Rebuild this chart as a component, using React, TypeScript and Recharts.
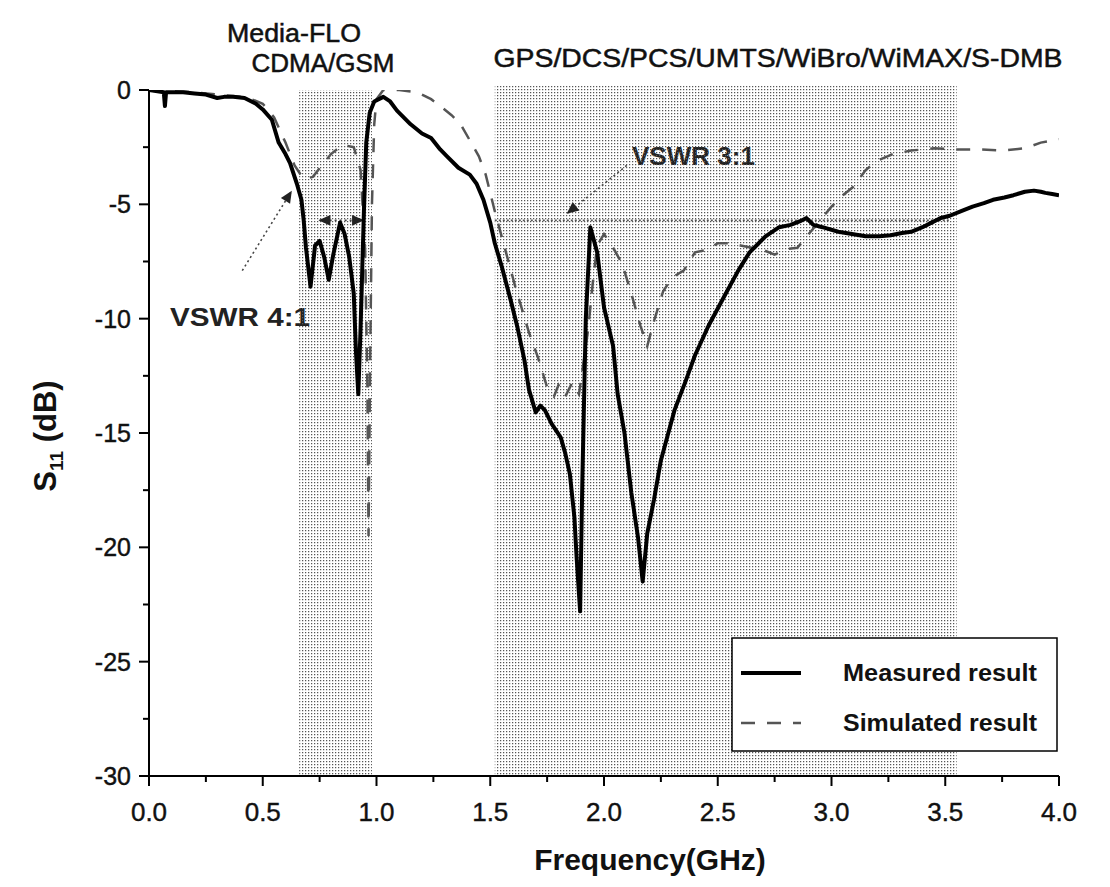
import React from 'react';
import {
  ComposedChart,
  Line,
  XAxis,
  YAxis,
  ReferenceArea,
  ReferenceLine,
  Legend,
} from 'recharts';

// Measured return loss (GHz, dB)
const measuredFreq = [
  0.0, 0.03, 0.065, 0.07, 0.075, 0.15, 0.2, 0.25, 0.3, 0.33, 0.37, 0.42, 0.47, 0.5,
  0.54, 0.57, 0.6, 0.62, 0.65, 0.67, 0.68, 0.69, 0.71, 0.73, 0.75, 0.77, 0.79, 0.81,
  0.84, 0.86, 0.88, 0.9, 0.91, 0.92, 0.93, 0.945, 0.955, 0.97, 0.99, 1.03, 1.06, 1.09,
  1.15, 1.2, 1.24, 1.28, 1.31, 1.36, 1.41, 1.44, 1.47, 1.5, 1.52, 1.55, 1.59, 1.62,
  1.65, 1.67, 1.7, 1.72, 1.74, 1.77, 1.79, 1.81, 1.83, 1.85, 1.87, 1.88, 1.895, 1.905,
  1.92, 1.94, 1.97, 2.0, 2.04, 2.06, 2.09, 2.12, 2.15, 2.17, 2.19, 2.22, 2.25, 2.28,
  2.31, 2.36, 2.4, 2.46, 2.53, 2.59, 2.64, 2.71, 2.77, 2.82, 2.86, 2.89, 2.92, 2.96,
  3.03, 3.09, 3.15, 3.21, 3.26, 3.31, 3.35, 3.4, 3.44, 3.48, 3.52, 3.57, 3.62, 3.67,
  3.71, 3.76, 3.8, 3.85, 3.89, 3.92, 3.94, 3.97, 4.0,
];
const measuredS11 = [
  0.0, -0.05, -0.1, -0.7, -0.1, -0.1, -0.15, -0.2, -0.35, -0.3, -0.3, -0.35, -0.6, -0.85,
  -1.3, -2.3, -2.8, -3.2, -4.1, -4.8, -5.7, -6.9, -8.6, -6.8, -6.6, -7.3, -8.3, -7.2,
  -5.8, -6.3, -7.3, -8.9, -11.5, -13.3, -10.4, -5.2, -2.3, -1.0, -0.5, -0.3, -0.5, -0.9,
  -1.5, -1.9, -2.1, -2.6, -2.9, -3.4, -3.7, -4.1, -4.8, -5.8, -6.7, -7.7, -9.2, -10.4,
  -11.8, -13.1, -14.1, -13.8, -14.0, -14.6, -14.9, -15.2, -15.9, -16.8, -18.7, -20.5, -22.8, -17.0,
  -10.0, -6.0, -7.1, -9.5, -11.2, -13.3, -15.0, -17.6, -19.6, -21.5, -19.4, -17.9, -16.2, -15.1,
  -14.0, -12.7, -11.6, -10.3, -9.0, -7.9, -7.1, -6.4, -6.0, -5.9, -5.75, -5.6, -5.9, -6.0,
  -6.2, -6.3, -6.4, -6.4, -6.35, -6.25, -6.2, -6.0, -5.8, -5.6, -5.5, -5.3, -5.1, -4.95,
  -4.8, -4.7, -4.6, -4.45, -4.4, -4.45, -4.5, -4.55, -4.6,
];

// Simulated return loss (GHz, dB)
const simulatedFreq = [
  0.0, 0.1, 0.2, 0.3, 0.4, 0.45, 0.5, 0.55, 0.6, 0.64, 0.68, 0.72, 0.76, 0.8,
  0.85, 0.9, 0.93, 0.95, 0.96, 0.965, 0.972, 0.98, 0.99, 1.0, 1.03, 1.1, 1.18, 1.24,
  1.28, 1.33, 1.37, 1.41, 1.45, 1.48, 1.5, 1.52, 1.55, 1.58, 1.61, 1.64, 1.67, 1.71,
  1.75, 1.78, 1.8, 1.83, 1.86, 1.89, 1.93, 1.95, 1.97, 2.0, 2.04, 2.08, 2.12, 2.16,
  2.19, 2.22, 2.26, 2.3, 2.35, 2.4, 2.45, 2.5, 2.55, 2.6, 2.65, 2.7, 2.75, 2.8,
  2.85, 2.9, 2.95, 3.0, 3.05, 3.1, 3.15, 3.2, 3.27, 3.35, 3.45, 3.55, 3.65, 3.75,
  3.85, 3.92, 4.0,
];
const simulatedS11 = [
  0.0, -0.05, -0.1, -0.2, -0.3, -0.4, -0.6, -1.2, -2.3, -3.3, -3.9, -3.8, -3.3, -2.8,
  -2.4, -2.5, -3.5, -7.0, -13.0, -19.5, -12.0, -5.0, -1.5, -0.4, 0.0, 0.0, -0.1, -0.4,
  -0.7, -1.1, -1.5, -2.2, -2.9, -3.7, -4.5, -5.3, -6.4, -7.5, -8.6, -9.6, -10.6, -11.7,
  -13.0, -13.4, -12.9, -13.4, -12.8, -13.3, -10.5, -8.5, -6.8, -6.3, -6.9, -7.6, -8.9, -10.3,
  -11.2, -10.1, -8.8, -8.2, -7.9, -7.1, -7.0, -6.7, -6.7, -6.8, -6.9, -7.0, -7.2, -6.95,
  -6.9, -6.3, -5.7, -5.1, -4.6, -4.2, -3.5, -3.1, -2.8, -2.65, -2.55, -2.6, -2.6, -2.65,
  -2.55, -2.3, -2.15,
];

// Axis ticks (major every 0.5 GHz / 5 dB, minor in between)
const xTicks = [0, 0.25, 0.5, 0.75, 1, 1.25, 1.5, 1.75, 2, 2.25, 2.5, 2.75, 3, 3.25, 3.5, 3.75, 4];
const yTicks = [0, -2.5, -5, -7.5, -10, -12.5, -15, -17.5, -20, -22.5, -25, -27.5, -30];

// Service bands and their captions
const lowBand = [0.66, 0.98];
const highBand = [1.52, 3.55];
const bandLabels = ['Media-FLO', 'CDMA/GSM', 'GPS/DCS/PCS/UMTS/WiBro/WiMAX/S-DMB'];

// VSWR reference levels (dB)
const vswr3Level = -5.7;
const vswr4Level = -4.45;

const measured = measuredFreq.map((f, i) => ({ f, s11: measuredS11[i] }));
const simulated = simulatedFreq.map((f, i) => ({ f, s11: simulatedS11[i] }));

const FONT = '"Liberation Sans", Arial, Helvetica, sans-serif';

const isMajorX = (v: number) => Math.abs(v * 2 - Math.round(v * 2)) < 1e-6;
const isMajorY = (v: number) => Math.abs(v / 5 - Math.round(v / 5)) < 1e-6;

const XTick = (props: any) => {
  const { x, y, payload } = props;
  const major = isMajorX(payload.value);
  return (
    <g>
      <line x1={x} x2={x} y1={y} y2={y + (major ? 10 : 6)} stroke="#000" strokeWidth={2} />
      {major && (
        <text
          x={x}
          y={y + 45}
          textAnchor="middle"
          fontSize={26}
          fill="#111"
          stroke="#111"
          strokeWidth={0.4}
          fontFamily={FONT}
        >
          {payload.value.toFixed(1)}
        </text>
      )}
    </g>
  );
};

const YTick = (props: any) => {
  const { x, y, payload } = props;
  const major = isMajorY(payload.value);
  return (
    <g>
      <line x1={x - (major ? 10 : 6)} x2={x} y1={y} y2={y} stroke="#000" strokeWidth={2} />
      {major && (
        <text
          x={x - 18}
          y={y + 9}
          textAnchor="end"
          fontSize={25}
          fill="#111"
          stroke="#111"
          strokeWidth={0.4}
          fontFamily={FONT}
        >
          {String(payload.value)}
        </text>
      )}
    </g>
  );
};

const leader = (props: any) => (
  <line
    x1={props.x1}
    y1={props.y1}
    x2={props.x2}
    y2={props.y2}
    stroke="#444"
    strokeWidth={1.6}
    strokeDasharray="2 3"
    markerEnd="url(#arrowHead)"
  />
);

const doubleArrow = (props: any) => (
  <line
    x1={props.x1}
    y1={props.y1}
    x2={props.x2}
    y2={props.y2}
    stroke="#444"
    strokeWidth={1.6}
    strokeDasharray="2 3"
    markerStart="url(#arrowHeadRev)"
    markerEnd="url(#arrowHead)"
  />
);

const renderLegend = (props: any) => {
  const { payload = [] } = props;
  return (
    <svg width={327} height={115} style={{ display: 'block', overflow: 'visible' }}>
      <rect x={1} y={1} width={325} height={113} fill="#fff" stroke="#000" strokeWidth={1.5} />
      {payload.map((entry: any, i: number) => {
        const cy = 36 + i * 50;
        const p = entry.payload || {};
        return (
          <g key={entry.value}>
            <line
              x1={10}
              x2={70}
              y1={cy}
              y2={cy}
              stroke={entry.color}
              strokeWidth={p.strokeWidth || 2}
              strokeDasharray={p.strokeDasharray}
            />
            <text
              x={112}
              y={cy + 8}
              fontSize={23}
              fontWeight="bold"
              fill="#111"
              fontFamily={FONT}
              textLength={194}
              lengthAdjust="spacingAndGlyphs"
            >
              {entry.value}
            </text>
          </g>
        );
      })}
    </svg>
  );
};

export default function App() {
  return (
    <div style={{ width: 1100, height: 879, fontFamily: FONT }}>
      <ComposedChart
        width={1100}
        height={879}
        margin={{ top: 82, right: 49, bottom: 51, left: 0 }}
        style={{ fontFamily: FONT }}
      >
        <defs>
          <pattern id="halftone" width={3} height={3} patternUnits="userSpaceOnUse">
            <rect x={0} y={0} width={1.25} height={1.25} fill="#555" />
          </pattern>
          <marker
            id="arrowHead"
            viewBox="0 0 10 10"
            refX={9}
            refY={5}
            markerWidth={14}
            markerHeight={12}
            markerUnits="userSpaceOnUse"
            orient="auto"
          >
            <path d="M0,0.5 L10,5 L0,9.5 z" fill="#222" />
          </marker>
          <marker
            id="arrowHeadRev"
            viewBox="0 0 10 10"
            refX={1}
            refY={5}
            markerWidth={14}
            markerHeight={12}
            markerUnits="userSpaceOnUse"
            orient="auto"
          >
            <path d="M10,0.5 L0,5 L10,9.5 z" fill="#222" />
          </marker>
        </defs>

        <XAxis
          type="number"
          dataKey="f"
          domain={[0, 4]}
          ticks={xTicks}
          interval={0}
          allowDataOverflow
          height={60}
          tickSize={0}
          tickMargin={0}
          tickLine={false}
          axisLine={{ stroke: '#000', strokeWidth: 2 }}
          tick={<XTick />}
        />
        <YAxis
          type="number"
          domain={[-30, 0]}
          ticks={yTicks}
          interval={0}
          allowDataOverflow
          width={141}
          tickSize={0}
          tickMargin={0}
          tickLine={false}
          axisLine={{ stroke: '#000', strokeWidth: 2 }}
          tick={<YTick />}
        />

        <ReferenceArea
          x1={lowBand[0]}
          x2={lowBand[1]}
          y1={-30}
          y2={0}
          fill="url(#halftone)"
          fillOpacity={1}
          stroke="none"
          ifOverflow="visible"
        />
        <ReferenceArea
          x1={highBand[0]}
          x2={highBand[1]}
          y1={-30}
          y2={0.2}
          fill="url(#halftone)"
          fillOpacity={1}
          stroke="none"
          ifOverflow="visible"
        />

        <ReferenceLine
          segment={[
            { x: highBand[0], y: vswr3Level },
            { x: 3.52, y: vswr3Level },
          ]}
          stroke="#555"
          strokeWidth={1.6}
          strokeDasharray="2 2"
          ifOverflow="visible"
        />
        <ReferenceLine
          segment={[
            { x: 2.1, y: -3.3 },
            { x: 1.84, y: -5.38 },
          ]}
          shape={leader}
          ifOverflow="visible"
        />
        <ReferenceLine
          segment={[
            { x: 0.41, y: -7.9 },
            { x: 0.625, y: vswr4Level },
          ]}
          shape={leader}
          ifOverflow="visible"
        />
        <ReferenceLine
          segment={[
            { x: 0.75, y: vswr3Level },
            { x: 0.94, y: vswr3Level },
          ]}
          shape={doubleArrow}
          ifOverflow="visible"
        />

        <Line
          data={simulated}
          dataKey="s11"
          name="Simulated result"
          type="linear"
          stroke="#555"
          strokeWidth={2.5}
          strokeDasharray="14 12"
          dot={false}
          activeDot={false}
          isAnimationActive={false}
        />
        <Line
          data={measured}
          dataKey="s11"
          name="Measured result"
          type="linear"
          stroke="#000"
          strokeWidth={4}
          strokeLinejoin="round"
          dot={false}
          activeDot={false}
          isAnimationActive={false}
        />

        <Legend
          layout="horizontal"
          verticalAlign="middle"
          align="center"
          content={renderLegend}
          itemSorter={(item: any) => (item.value === 'Measured result' ? 0 : 1)}
          wrapperStyle={{ left: 723, top: 629, width: 327, height: 115 }}
        />

        <text x={286} y={34} textAnchor="middle" fontSize={25} fill="#111" stroke="#111" strokeWidth={0.5} fontFamily={FONT} textLength={134} lengthAdjust="spacingAndGlyphs">
          {bandLabels[0]}
        </text>
        <text x={315} y={64} textAnchor="middle" fontSize={25} fill="#111" stroke="#111" strokeWidth={0.5} fontFamily={FONT} textLength={143} lengthAdjust="spacingAndGlyphs">
          {bandLabels[1]}
        </text>
        <text x={770} y={59} textAnchor="middle" fontSize={26} fill="#111" stroke="#111" strokeWidth={0.5} fontFamily={FONT} textLength={569} lengthAdjust="spacingAndGlyphs">
          {bandLabels[2]}
        </text>
        <text x={624} y={157} fontSize={25} fontWeight="bold" fill="#222" fontFamily={FONT} textLength={123} lengthAdjust="spacingAndGlyphs">
          VSWR 3:1
        </text>
        <text x={162} y={318} fontSize={25} fontWeight="bold" fill="#222" fontFamily={FONT} textLength={140} lengthAdjust="spacingAndGlyphs">
          VSWR 4:1
        </text>

        <text
          x={48}
          y={428}
          transform="rotate(-90 48 428)"
          textAnchor="middle"
          fontSize={31}
          fontWeight="bold"
          fill="#111"
          fontFamily={FONT}
        >
          S
          <tspan fontSize={19} dy={7}>11</tspan>
          <tspan dy={-7}> (dB)</tspan>
        </text>
        <text x={642} y={862} textAnchor="middle" fontSize={30} fontWeight="bold" fill="#111" fontFamily={FONT}>
          Frequency(GHz)
        </text>
      </ComposedChart>
    </div>
  );
}
